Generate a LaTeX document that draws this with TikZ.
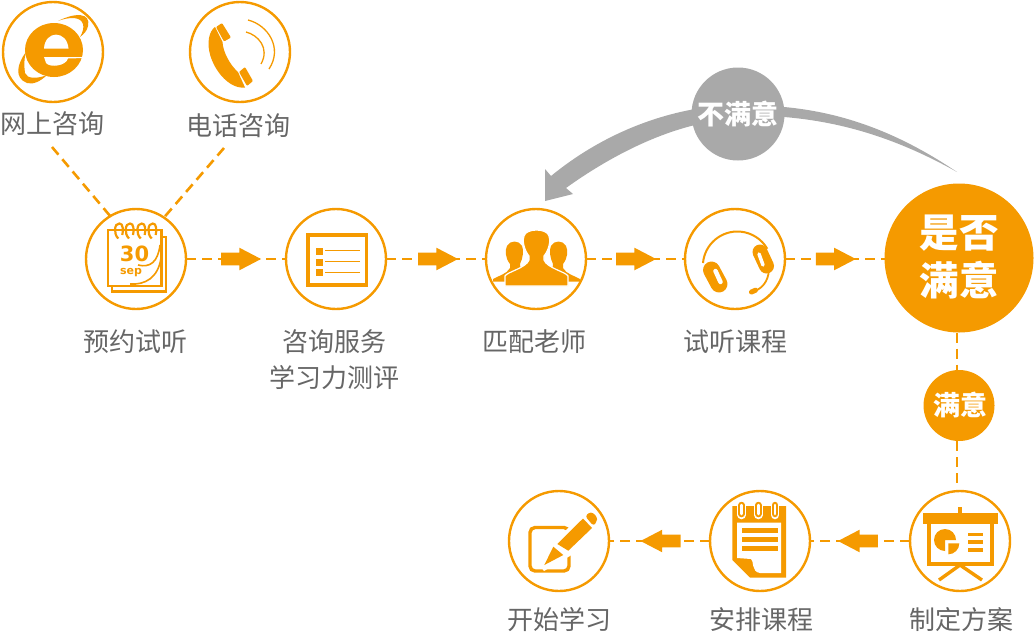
\documentclass[tikz,border=0pt]{standalone}
\usepackage{fontspec}
\setmainfont{Noto Sans CJK SC}
\newfontfamily\numfont{DejaVu Sans}
\usetikzlibrary{arrows.meta,positioning,shapes.arrows}
\definecolor{stepcolor}{HTML}{F59A00}
\definecolor{backcolor}{HTML}{A9A9A9}
\definecolor{labelcolor}{HTML}{666666}

\begin{document}
\begin{tikzpicture}[x=1pt, y=-1pt,
  stage/.style={draw=stepcolor, circle, line width=2.4pt, fill=white, minimum size=100pt, inner sep=0pt, outer sep=0pt},
  badge/.style={circle, inner sep=0pt, outer sep=0pt, text=white, font=\bfseries},
  caption/.style={text=labelcolor, inner sep=0pt, font=\fontsize{26}{36}\selectfont, align=center},
  link/.style={draw=stepcolor, line width=2.6pt, dash pattern=on 10pt off 6pt},
  flow/.style={single arrow, fill=stepcolor, inner xsep=0pt, inner ysep=5pt, outer sep=0pt, minimum height=40pt,
    single arrow head extend=5pt, single arrow tip angle=55, anchor=center},
  icon/.style={fill=stepcolor, draw=none},
  stroke/.style={draw=stepcolor, line width=1.3pt, fill=none}]
  \useasboundingbox (0,0) rectangle (1035,640);

  % stages
  \node[stage] (web)     at (53,52)   {};
  \node[stage] (phone)   at (240,52)  {};
  \node[stage] (booking) at (136,259) {};
  \node[stage] (consult) at (336,259) {};
  \node[stage] (match)   at (536,259) {};
  \node[stage] (trial)   at (735,259) {};
  \node[stage] (plan)    at (960,541) {};
  \node[stage] (lessons) at (760,541) {};
  \node[stage] (study)   at (559,541) {};
  \node[badge, fill=stepcolor, minimum size=149pt] (happy) at (959,258) {};
  \node[badge, fill=stepcolor, minimum size=71pt]  (yes)   at (959,405.5) {};

  % captions
  \node[caption] (webtext)     at (52,124)   {网上咨询};
  \node[caption] (phonetext)   at (238,126)  {电话咨询};
  \node[caption] (bookingtext) at (135,342)  {预约试听};
  \node[caption] (consulttext) at (334,360)  {咨询服务\\学习力测评};
  \node[caption] (matchtext)   at (534,342)  {匹配老师};
  \node[caption] (trialtext)   at (735,342)  {试听课程};
  \node[caption] (plantext)    at (961,620)  {制定方案};
  \node[caption] (lessonstext) at (761,620)  {安排课程};
  \node[caption] (studytext)   at (559,620)  {开始学习};

  % connectors
  \coordinate (webend)   at (52,147);
  \coordinate (phoneend) at (224,148);
  \draw[link] (webend) -- (booking.121);
  \draw[link] (phoneend) -- (booking.56);
  \draw[link] (booking) -- node[flow, pos=.49] (a1) {} (consult);
  \draw[link] (consult) -- node[flow, pos=.46] (a2) {} (match);
  \draw[link] (match) -- node[flow, pos=.445] (a3) {} (trial);
  \draw[link] (trial) -- node[flow, pos=.45] (a4) {} (trial -| happy.west);
  \draw[link] ([xshift=-2pt]happy.south) -- ([xshift=-2pt]yes.north);
  \draw[link] ([xshift=-2pt]yes.south) -- ([xshift=-3pt,yshift=4pt]plan.north);
  \draw[link] (plan) -- node[flow, pos=.46, rotate=180] (a5) {} (lessons);
  \draw[link] (lessons) -- node[flow, pos=.43, rotate=180] (a6) {} (study);

  % way back
  \fill[backcolor] (784,107) .. controls (850,113) and (905,137) .. (957,172)
    .. controls (900,140) and (845,122) .. (784,117) -- cycle;
  \fill[backcolor] (695,109) .. controls (645,118) and (595,140) .. (551,176) -- (545,169) -- (545,201) -- (573,194)
    -- (566,188) .. controls (605,160) and (650,136) .. (695,125) -- cycle;
  \node[badge, fill=backcolor, minimum size=93pt, font=\fontsize{27}{30}\selectfont\bfseries] (no) at (738,114) {不满意};
  \node[text=white, inner sep=0pt, align=center, font=\fontsize{39.5}{48}\selectfont\bfseries] (happytext) at (959,257) {是否\\满意};
  \node[text=white, inner sep=0pt, font=\fontsize{27}{30}\selectfont\bfseries] (yestext) at (960,405) {满意};

  % web icon
  \fill[icon] (54,50) ellipse [x radius=29, y radius=27];
  \fill[white] (44,48.5) .. controls (45,30) and (67,30) .. (68.5,48.5) -- cycle;
  \fill[white] (44,57) -- (84,57) -- (84,58) -- (68,58.5) .. controls (66,66) and (50,68) .. (46,63) -- cycle;
  \fill[icon] (58,21) .. controls (76,12) and (91,13) .. (88,26) .. controls (87,31) and (84,34) .. (80,37)
    .. controls (86,27) and (84,19) .. (74,18) .. controls (68,18) and (63,19) .. (58,21) -- cycle;
  \fill[icon] (26,52) .. controls (17,64) and (14,78) .. (27,83) .. controls (33,85) and (41,81) .. (47,75)
    .. controls (37,79) and (27,79) .. (25,73) .. controls (24,66) and (24,58) .. (26,52) -- cycle;

  % phone icon
  \fill[icon, rounded corners=1pt] (222,23) -- (231,37.5) -- (224,41.5) -- (216,27) -- cycle;
  \fill[icon, rounded corners=1pt] (245,67) -- (253,81) -- (247,86) -- (239,72) -- cycle;
  \fill[icon] (215,27) -- (222.5,42) .. controls (223,52) and (230,65) .. (238,72) -- (245,87.5)
    .. controls (226,90) and (205,60) .. (209,38) .. controls (210,33) and (212,29) .. (215,27) -- cycle;
  \draw[stroke] (248,20) .. controls (268,25) and (283,48) .. (269,69);
  \draw[stroke] (246,32) .. controls (258,35) and (270,48) .. (261,64);

  % calendar icon
  \draw[stroke, line width=2.4pt, fill=white] (112,237) rectangle (166,291.5);
  \draw[stroke, line width=2.4pt, fill=white] (108,230) rectangle (161.5,286);
  \foreach \ringx in {119.3,130,141.7,152.7}
    \draw[stroke, line width=2.2pt] (\ringx-1,238.5) .. controls (\ringx-6,234) and (\ringx-5,223) .. (\ringx,223.5)
      .. controls (\ringx+4,223) and (\ringx+4,231) .. (\ringx+3,235);
  \draw[stroke, line width=1.6pt] (160,245) .. controls (158,262) and (150,268) .. (138,265);
  \draw[stroke, line width=1.6pt] (161,258) .. controls (158,278) and (145,285) .. (130,284);
  \node[text=stepcolor, inner sep=0pt, font=\numfont\fontsize{21}{24}\selectfont\bfseries] (day) at (134.5,254) {30};
  \node[text=stepcolor, inner sep=0pt, font=\numfont\fontsize{11}{12}\selectfont\bfseries] (month) at (131,273) {sep};

  % form icon
  \draw[stroke, line width=3.6pt] (308,235) rectangle (366.5,285);
  \foreach \rowy in {247.5,258.5,269} {
    \fill[icon] (315.7,\rowy) rectangle +(7,7);
    \draw[stroke] (325,\rowy+3.3) -- (360,\rowy+3.3);
  }

  % people icon
  \foreach \mirror/\shiftx in {1/0,-1/1073} {
    \begin{scope}[xshift=\shiftx pt, xscale=\mirror]
      \fill[icon] (493,281.5) -- (493,279) .. controls (498,276) and (507,274) .. (510,268) -- (510,264)
        .. controls (505,258) and (505,250) .. (507,246) .. controls (510,240) and (519,240) .. (522,246)
        .. controls (524,250) and (523,258) .. (520,264) -- (522,281.5) -- cycle;
    \end{scope}
  }
  \path[icon, draw=white, line width=1.2pt] (505,286) -- (505,276) .. controls (507,272) and (526,268) .. (529,260) -- (529,256)
    .. controls (524,250) and (522,240) .. (524,236) .. controls (526,228) and (547,228) .. (549,236)
    .. controls (551,240) and (549,250) .. (544,256) -- (544,260) .. controls (547,268) and (566,272) .. (568,276)
    -- (568,286) -- cycle;

  % headset icon
  \draw[stroke, line width=2pt] (703,263) arc [start angle=185, end angle=330, radius=34.5];
  \draw[stepcolor, line width=17pt, line cap=round] (711.5,270) -- (719,284);
  \draw[white, line width=4.5pt, line cap=round] (715.5,271) -- (720.5,282);
  \draw[stepcolor, line width=15pt, line cap=round] (760,252) -- (766.5,266);
  \draw[white, line width=3.5pt, line cap=round] (759,254) -- (763,265);
  \draw[stroke, line width=1.8pt] (769,270) .. controls (768,282) and (762,288) .. (755,291);
  \draw[stepcolor, line width=5pt, line cap=round] (751.5,292) -- (755.5,290.2);

  % notepad icon
  \fill[icon] (732.3,506) -- (786,506) -- (786,577.5) -- (750,577.5) -- (732.3,560) -- cycle;
  \fill[white] (737,522.5) -- (781,522.5) -- (781,573) -- (760,573) .. controls (751,572) and (754,560) .. (751,559)
    -- (737,558) -- cycle;
  \foreach \linesy in {527.5,536.5,545.7}
    \fill[icon] (741.7,\linesy) rectangle (777.7,\linesy+5.3);
  \foreach \ringx in {741.7,758.3,775} {
    \draw[white, line width=8.5pt, line cap=round] (\ringx,505) -- (\ringx,515);
    \draw[stepcolor, line width=6.5pt, line cap=round] (\ringx,505) -- (\ringx,514);
    \draw[white, line width=2.5pt, line cap=round] (\ringx,505) -- (\ringx,514);
  }

  % writing icon
  \draw[stroke, line width=3.4pt, rounded corners=5pt] (530,527.5) rectangle (569,571);
  \fill[white] (551,545) -- (586,510) -- (602,525) -- (570,556) -- (544,571) -- (540,566) -- cycle;
  \fill[icon] (544.3,565) -- (553.3,546.7) -- (563.3,555) -- cycle;
  \fill[icon] (557.3,544) -- (583,518.5) -- (592,528) -- (568.3,550.7) -- cycle;
  \fill[icon, rounded corners=3pt] (585,516) -- (591,511.5) -- (597.5,517) -- (596.5,522) -- (593.5,526) -- cycle;

  % plan icon
  \fill[icon] (923.3,513.3) rectangle (997.7,524);
  \fill[icon] (957.7,506.7) rectangle (961.7,513.3);
  \draw[stroke, line width=3.4pt] (929,524) -- (929,564) -- (992,564) -- (992,524);
  \draw[stroke, line width=3.4pt] (960,565) -- (939,580);
  \draw[stroke, line width=3.4pt] (960,565) -- (982,580);
  \fill[icon] (945,540) -- (945,551) arc [start angle=90, end angle=360, radius=11] -- cycle;
  \fill[icon] (948.3,543.3) -- (959.3,543.3) arc [start angle=0, end angle=90, radius=11] -- cycle;
  \foreach \barsy in {532.7,540.3,548.3}
    \fill[icon] (968.3,\barsy) rectangle (982.7,\barsy+3.3);
\end{tikzpicture}
\end{document}
